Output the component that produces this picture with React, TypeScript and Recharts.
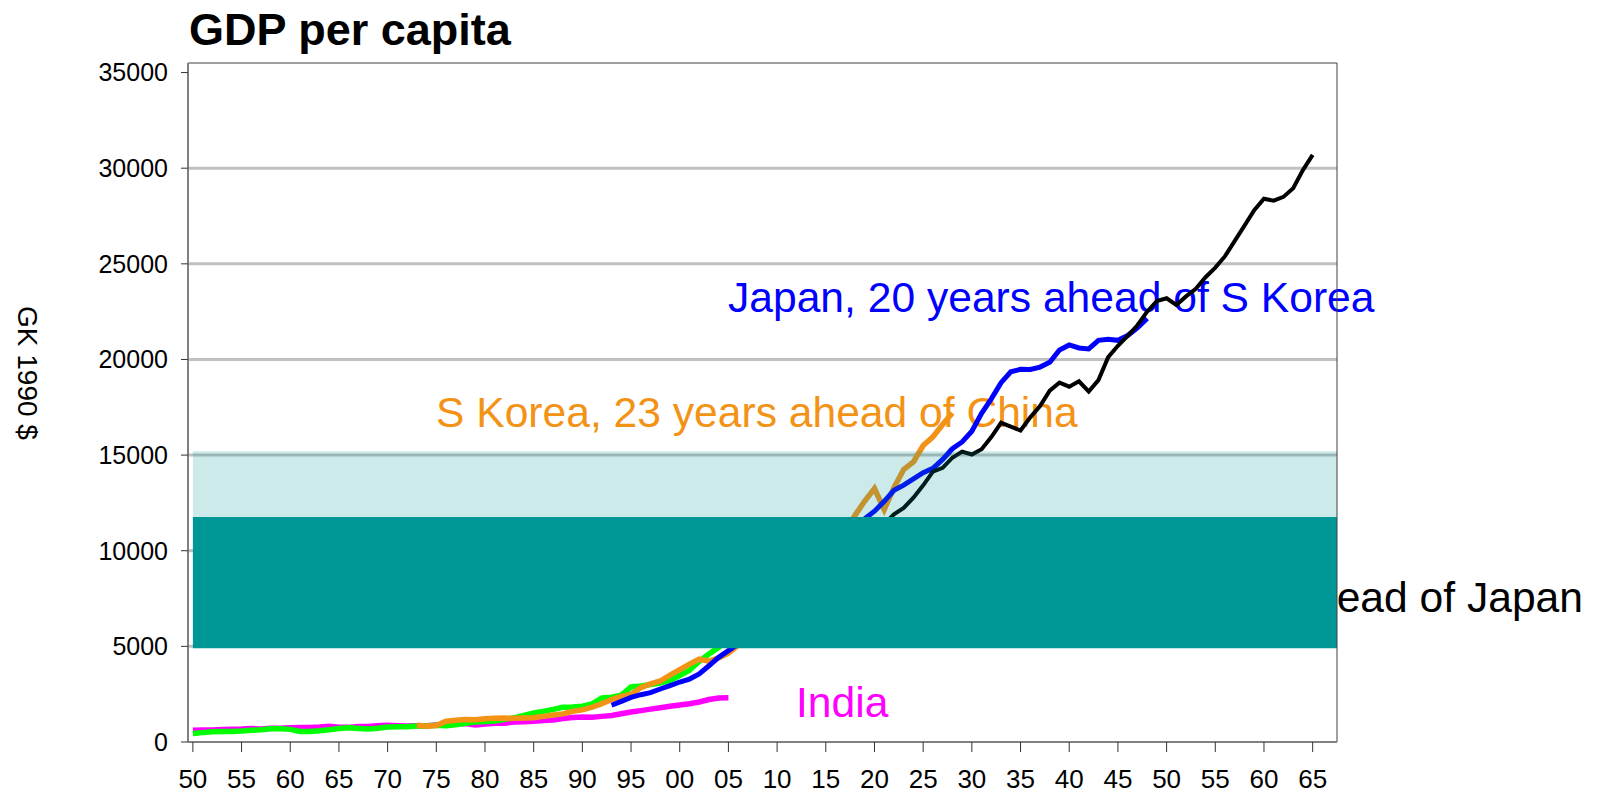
import { LineChart, Line, XAxis, YAxis, ReferenceArea, ReferenceLine } from 'recharts'

// values (GK 1990 $), each series shifted in time as labelled
const indiaStart = 1950
const indiaValues = [
  620, 625, 630, 655, 670, 675, 700, 680, 715, 720,
  750, 755, 760, 780, 820, 770, 765, 805, 810, 845,
  870, 855, 835, 855, 850, 895, 890, 935, 965, 895,
  940, 975, 985, 1040, 1060, 1090, 1120, 1145, 1230, 1280,
  1310, 1300, 1340, 1390, 1480, 1570, 1640, 1720, 1790, 1870,
  1930, 2000, 2090, 2220, 2300, 2310,
]

const chinaStart = 1950
const chinaValues = [
  450, 490, 540, 550, 555, 575, 615, 635, 690, 695,
  660, 555, 550, 590, 645, 705, 750, 710, 680, 720,
  780, 800, 800, 840, 835, 875, 850, 895, 980, 1040,
  1070, 1100, 1190, 1265, 1395, 1520, 1600, 1705, 1815, 1830,
  1870, 1990, 2300, 2340, 2450, 2880, 2930, 3000, 3080, 3220,
  3480, 3750, 4220, 4600, 4950, 5400, 5900,
]

const koreaStart = 1973
const koreaValues = [
  880, 830, 860, 1090, 1140, 1180, 1160, 1210, 1240, 1250,
  1240, 1260, 1270, 1340, 1410, 1470, 1600, 1680, 1820, 2000,
  2220, 2380, 2500, 2840, 3040, 3190, 3500, 3780, 4070, 4330,
  4230, 4400, 4650, 5050, 5400, 5680, 6270, 6920, 7620, 8030,
  8700, 9430, 9820, 10240, 11000, 11850, 12600, 13250, 12150, 13300,
  14250, 14650, 15500, 15950, 16600, 17200,
]

const japanStart = 1993
const japanValues = [
  1921, 2126, 2336, 2474, 2582, 2771, 2948, 3136, 3289, 3554,
  3986, 4426, 4777, 5129, 5668, 5934, 6506, 7152, 7983, 8874,
  9714, 10040, 10734, 11434, 11145, 11344, 11669, 12064, 12585, 13163,
  13428, 13754, 14078, 14307, 14773, 15332, 15687, 16251, 17185, 17943,
  18789, 19355, 19482, 19478, 19603, 19849, 20494, 20759, 20600, 20550,
  21000, 21050, 21000, 21250, 21650, 22150,
]

const usStart = 2010
const usValues = [
  9561, 10116, 10316, 10613, 10359, 10897, 10914, 10920, 10631, 11230,
  11328, 11402, 11905, 12242, 12773, 13419, 14134, 14330, 14863, 15179,
  15030, 15304, 15944, 16689, 16491, 16284, 16975, 17567, 18373, 18789,
  18577, 18856, 18325, 18920, 20123, 20717, 21236, 21788, 22499, 23059,
  23201, 22849, 23298, 23700, 24300, 24800, 25400, 26200, 27000, 27800,
  28400, 28300, 28500, 28950, 29900, 30700,
]

const xTicks = [
  1950, 1955, 1960, 1965, 1970, 1975, 1980, 1985, 1990, 1995, 2000, 2005,
  2010, 2015, 2020, 2025, 2030, 2035, 2040, 2045, 2050, 2055, 2060, 2065,
]
const yTicks = [0, 5000, 10000, 15000, 20000, 25000, 30000, 35000]
const gridValues = [5000, 10000, 15000, 20000, 25000, 30000]

const firstYear = 1950
const lastYear = 2067

function pick(start: number, values: number[], year: number) {
  const i = year - start
  return i >= 0 && i < values.length ? values[i] : undefined
}

const rows: any[] = []
for (let y = firstYear; y <= lastYear; y++) {
  rows.push({
    year: y,
    india: pick(indiaStart, indiaValues, y),
    china: pick(chinaStart, chinaValues, y),
    korea: pick(koreaStart, koreaValues, y),
    japan: pick(japanStart, japanValues, y),
    us: pick(usStart, usValues, y),
  })
}

const TEAL = '#009696'
const ORANGE = '#f39316'
const labelFont = 42.6

export default function App() {
  return (
    <div
      style={{
        position: 'absolute',
        left: 0,
        top: 0,
        width: 1604,
        height: 798,
        background: '#fff',
        fontFamily: '"Liberation Sans", Arial, sans-serif',
      }}
    >
      <LineChart width={1604} height={798} data={rows} margin={{ top: 63, right: 267, bottom: 16, left: 0 }}>
        <XAxis
          dataKey="year"
          type="number"
          domain={[firstYear - 0.5, lastYear + 0.5]}
          ticks={xTicks}
          tickFormatter={(v: number) => String(v % 100).padStart(2, '0')}
          height={40}
          tickSize={10}
          tickMargin={18}
          interval={0}
          axisLine={{ stroke: '#808080', strokeWidth: 2 }}
          tickLine={{ stroke: '#333' }}
          tick={{ fontSize: 26, fill: '#000' }}
        />
        <YAxis
          type="number"
          domain={[0, 35500]}
          ticks={yTicks}
          width={188}
          tickSize={7}
          tickMargin={13}
          interval={0}
          axisLine={{ stroke: '#808080', strokeWidth: 2 }}
          tickLine={{ stroke: '#333' }}
          tick={{ fontSize: 25, fill: '#000' }}
        />
        {gridValues.map((v) => (
          <ReferenceLine key={v} y={v} stroke="#c0c0c0" strokeWidth={3} zIndex={-10} />
        ))}

        <text x={189} y={45} fontSize={45} fontWeight="bold" fill="#000">
          GDP per capita
        </text>
        <text
          x={27}
          y={373}
          transform="rotate(90, 27, 373)"
          textAnchor="middle"
          dominantBaseline="central"
          fontSize={28}
          fill="#000"
        >
          GK 1990 $
        </text>
        <text x={728} y={312} fontSize={labelFont} fill="#0000ff">
          Japan, 20 years ahead of S Korea
        </text>
        <text x={436} y={427} fontSize={labelFont} fill={ORANGE}>
          S Korea, 23 years ahead of China
        </text>
        <text x={796} y={717} fontSize={labelFont} fill="#ff00ff">
          India
        </text>
        <text x={1583} y={612} textAnchor="end" fontSize={labelFont} fill="#000">
          US, 17 years ahead of Japan
        </text>

        <Line dataKey="india" stroke="#ff00ff" strokeWidth={5.5} dot={false} isAnimationActive={false} />
        <Line dataKey="china" stroke="#00ff00" strokeWidth={5.5} dot={false} isAnimationActive={false} />
        <Line dataKey="korea" stroke={ORANGE} strokeWidth={5.5} dot={false} isAnimationActive={false} />
        <Line dataKey="japan" stroke="#0000ff" strokeWidth={5} dot={false} isAnimationActive={false} />
        <Line dataKey="us" stroke="#000000" strokeWidth={4} dot={false} isAnimationActive={false} />

        <ReferenceArea
          x1={1950}
          x2={lastYear + 0.5}
          y1={4900}
          y2={11770}
          fill={TEAL}
          fillOpacity={1}
          stroke="none"
          zIndex={450}
        />
        <ReferenceArea
          x1={1950}
          x2={lastYear + 0.5}
          y1={11770}
          y2={15200}
          fill={TEAL}
          fillOpacity={0.2}
          stroke="none"
          zIndex={450}
        />
        <ReferenceArea
          x1={firstYear - 0.5}
          x2={lastYear + 0.5}
          y1={0}
          y2={35500}
          fill="none"
          stroke="#404040"
          strokeWidth={1}
          ifOverflow="visible"
          zIndex={460}
        />
      </LineChart>
    </div>
  )
}
